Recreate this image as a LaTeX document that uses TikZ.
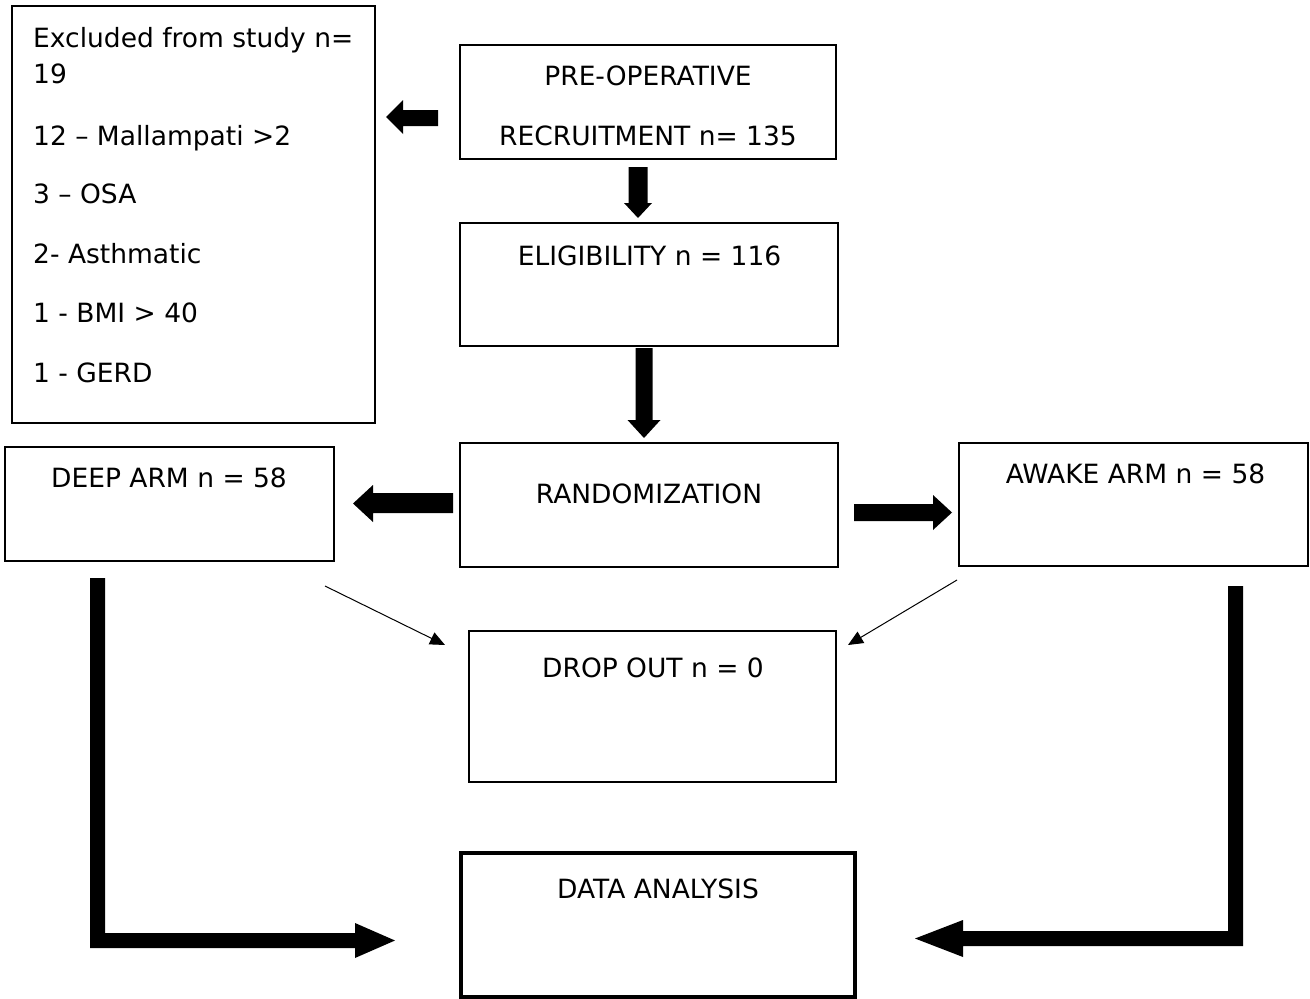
\documentclass[tikz,border=0pt]{standalone}
\usepackage{fontspec}
\setmainfont{DejaVu Sans}
\usetikzlibrary{arrows.meta}
\begin{document}
\begin{tikzpicture}[x=1pt,y=-1pt,
  box/.style={draw=black,line width=2pt,rectangle,inner sep=0pt},
  thickbox/.style={draw=black,line width=4pt,rectangle,inner sep=0pt},
  txt/.style={inner sep=0pt,anchor=base,font=\fontsize{26.5}{30}\selectfont},
  ltxt/.style={inner sep=0pt,anchor=base west,font=\fontsize{26.5}{30}\selectfont},
  blk/.style={fill=black},
  thin/.style={draw=black,line width=1pt,-{Triangle[length=15pt,width=13pt]}}]
\useasboundingbox[fill=white] (0,0) rectangle (1310,999);
% boxes
\node[box,minimum width=363pt,minimum height=417pt] (excl) at (193.5,214.5) {};
\node[box,minimum width=376pt,minimum height=114pt] (pre) at (648,102) {};
\node[box,minimum width=378pt,minimum height=123pt] (elig) at (649,284.5) {};
\node[box,minimum width=378pt,minimum height=124pt] (rand) at (649,505) {};
\node[box,minimum width=329pt,minimum height=114pt] (deep) at (169.5,504) {};
\node[box,minimum width=349pt,minimum height=123pt] (awake) at (1133.5,504.5) {};
\node[box,minimum width=367pt,minimum height=151pt] (drop) at (652.5,706.5) {};
\node[thickbox,minimum width=394pt,minimum height=144pt] (data) at (658,925) {};
% texts
\node[ltxt] (e1) at (33,47) {Excluded from study n=};
\node[ltxt] (e2) at (33,83) {19};
\node[ltxt] (e3) at (33,145) {12 – Mallampati >2};
\node[ltxt] (e4) at (33,203) {3 – OSA};
\node[ltxt] (e5) at (33,263) {2- Asthmatic};
\node[ltxt] (e6) at (33,322) {1 - BMI > 40};
\node[ltxt] (e7) at (33,382) {1 - GERD};
\node[txt] (p1) at (648,85) {PRE-OPERATIVE};
\node[txt] (p2) at (648,145) {RECRUITMENT n= 135};
\node[txt] (t1) at (649.5,265) {ELIGIBILITY n = 116};
\node[txt] (t2) at (649,503) {RANDOMIZATION};
\node[txt] (t3) at (169,487) {DEEP ARM n = 58};
\node[txt] (t4) at (1135.5,483) {AWAKE ARM n = 58};
\node[txt] (t5) at (653,677) {DROP OUT n = 0};
\node[txt] (t6) at (658,898) {DATA ANALYSIS};
% block arrows
\fill[blk] (628.5,167) -- (647.5,167) -- (647.5,203) -- (652,203) -- (638,218) -- (624,203) -- (628.5,203) -- cycle;
\fill[blk] (635.5,348) -- (652.5,348) -- (652.5,420) -- (660.5,420) -- (644,438) -- (627.5,420) -- (635.5,420) -- cycle;
\fill[blk] (438,110) -- (403,110) -- (403,100) -- (386,117) -- (403,134) -- (403,126) -- (438,126) -- cycle;
\fill[blk] (453,493) -- (373,493) -- (373,485) -- (353,503.5) -- (373,522) -- (373,513) -- (453,513) -- cycle;
\fill[blk] (854,504) -- (933,504) -- (933,495) -- (952,512.5) -- (933,530) -- (933,521) -- (854,521) -- cycle;
\fill[blk] (90,578) -- (105,578) -- (105,933) -- (355,933) -- (355,923) -- (395,940.5) -- (355,958) -- (355,948) -- (90,948) -- cycle;
\fill[blk] (1228,586) -- (1243,586) -- (1243,946) -- (963,946) -- (963,957) -- (915,938.5) -- (963,920) -- (963,931) -- (1228,931) -- cycle;
% thin arrows
\coordinate (ls) at (325,586);
\coordinate (le) at (445,645);
\coordinate (rs) at (957,580);
\coordinate (re) at (848,645);
\draw[thin] (ls) -- (le);
\draw[thin] (rs) -- (re);
\end{tikzpicture}
\end{document}
